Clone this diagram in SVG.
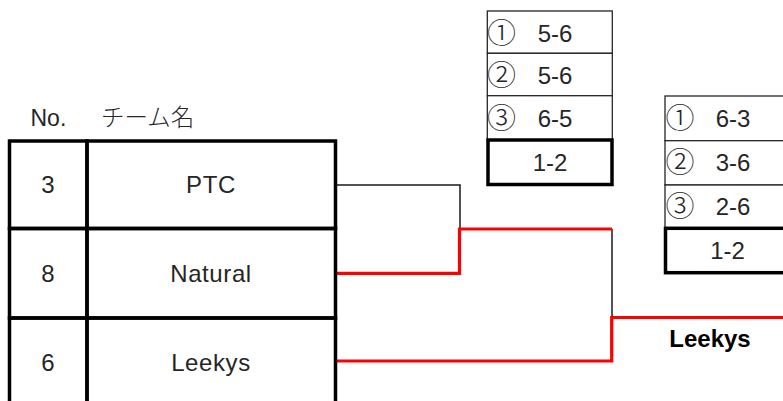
<svg xmlns="http://www.w3.org/2000/svg" width="783" height="401" viewBox="0 0 783 401">
<style>
text{font-family:"Liberation Sans","Noto Sans CJK JP",sans-serif;fill:#262626;font-size:24px;text-anchor:middle}
.hdr{text-anchor:start;font-size:23px}
.name{letter-spacing:0.6px}
.circ{font-family:"Noto Sans CJK JP",sans-serif;font-weight:300;font-size:29px}
.thick{fill:none;stroke:#000;stroke-width:3.5}
.thin{fill:#fff;stroke:#262626;stroke-width:1.3}
.box{fill:#fff;stroke:#000;stroke-width:3.5}
.wire{fill:none;stroke:#1a1a1a;stroke-width:1.5}
.win{fill:none;stroke:#ff0000;stroke-width:3.2}
.bold{font-weight:bold;fill:#000;font-size:24px}
</style>
<rect width="783" height="401" fill="#fff"/>
<g id="header">
<text class="hdr" x="30.5" y="126">No.</text>
<text class="hdr" x="101" y="126" style="font-family:'Noto Sans CJK JP',sans-serif;font-weight:300;font-size:23.5px">チーム名</text>
</g>
<g id="connectors">
<polyline class="wire" points="335.5,185 460,185 460,229"/>
<line class="wire" x1="612" y1="229" x2="612" y2="318"/>
<polyline class="win" points="335.5,273.3 459.5,273.3 459.5,229 612,229"/>
<polyline class="win" points="335.5,361 611.7,361 611.7,317.5 783,317.5"/>
</g>
<g id="team-3">
<rect class="thick" x="9.5" y="141" width="77.5" height="87.5"/>
<rect class="thick" x="87" y="141" width="248.5" height="87.5"/>
<text x="48" y="193">3</text>
<text class="name" x="211" y="193">PTC</text>
</g>
<g id="team-8">
<rect class="thick" x="9.5" y="228.5" width="77.5" height="89.5"/>
<rect class="thick" x="87" y="228.5" width="248.5" height="89.5"/>
<text x="48" y="281.5">8</text>
<text class="name" x="211" y="281.5">Natural</text>
</g>
<g id="team-6">
<rect class="thick" x="9.5" y="318" width="77.5" height="89"/>
<rect class="thick" x="87" y="318" width="248.5" height="89"/>
<text x="48" y="370.5">6</text>
<text class="name" x="211" y="370.5">Leekys</text>
</g>
<g id="score-1">
<rect class="thin" x="487.3" y="11" width="125" height="42.3"/>
<rect class="thin" x="487.3" y="53.3" width="125" height="42.4"/>
<rect class="thin" x="487.3" y="95.7" width="125" height="44.3"/>
<rect class="box" x="488" y="140" width="124" height="44.5"/>
<text class="circ" x="501.5" y="43.5">①</text><text x="555" y="41.5">5-6</text>
<text class="circ" x="501.5" y="86">②</text><text x="555" y="84">5-6</text>
<text class="circ" x="501.5" y="128.5">③</text><text x="555" y="126.5">6-5</text>
<text x="550" y="171">1-2</text>
</g>
<g id="score-2">
<rect class="thin" x="665" y="96" width="125" height="44.7"/>
<rect class="thin" x="665" y="140.7" width="125" height="44.3"/>
<rect class="thin" x="665" y="185" width="125" height="43.3"/>
<rect class="box" x="665.5" y="228.3" width="124" height="44.4"/>
<text class="circ" x="680" y="129">①</text><text x="733" y="127">6-3</text>
<text class="circ" x="680" y="173">②</text><text x="733" y="171">3-6</text>
<text class="circ" x="680" y="217">③</text><text x="733" y="215">2-6</text>
<text x="727.5" y="259">1-2</text>
</g>
<g id="winner">
<text class="bold" x="710" y="346.5">Leekys</text>
</g>
</svg>
